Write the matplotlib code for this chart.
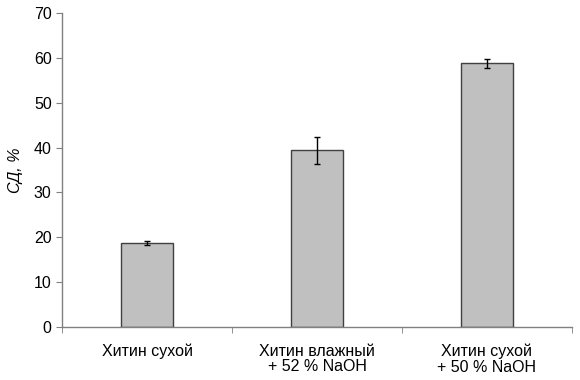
import matplotlib
matplotlib.use("Agg")
import matplotlib.pyplot as plt

categories = ["Хитин сухой", "Хитин влажный\n+ 52 % NaOH", "Хитин сухой\n+ 50 % NaOH"]
values = [18.7, 39.4, 58.8]
errors = [0.5, 3.0, 1.0]
yticks = [0, 10, 20, 30, 40, 50, 60, 70]

plt.rcParams['font.family'] = ['Liberation Sans', 'DejaVu Sans']

fig = plt.figure(figsize=(5.8, 3.8), dpi=100)
ax = fig.add_axes([0.107, 0.139, 0.879, 0.827])

x = list(range(len(categories)))
ax.bar(x, values, width=0.31, color="#c0c0c0", edgecolor="#404040", linewidth=1.0,
       yerr=errors, error_kw=dict(ecolor="black", elinewidth=1.0, capsize=2.0, capthick=1.0), zorder=2)

ax.set_xlim(-0.5, 2.5)
ax.set_ylim(0, 70)
ax.set_yticks(yticks)
ax.set_xticks(x)
ax.set_xticklabels(categories, fontsize=11.5, linespacing=1.05)
ax.tick_params(axis='x', length=0, pad=12)
ax.set_xticks([-0.5, 0.5, 1.5, 2.5], minor=True)
ax.tick_params(axis='x', which='minor', length=4, color="#808080", direction='out')
ax.tick_params(axis='y', length=4, color="#808080", labelsize=11.5, direction='out')
ax.set_ylabel("СД, %", fontsize=11.5, style='italic', labelpad=8)

for s in ["top", "right"]:
    ax.spines[s].set_visible(False)
for s in ["left", "bottom"]:
    ax.spines[s].set_color("#808080")
    ax.spines[s].set_linewidth(1.0)

fig.savefig("out.png", dpi=100)
